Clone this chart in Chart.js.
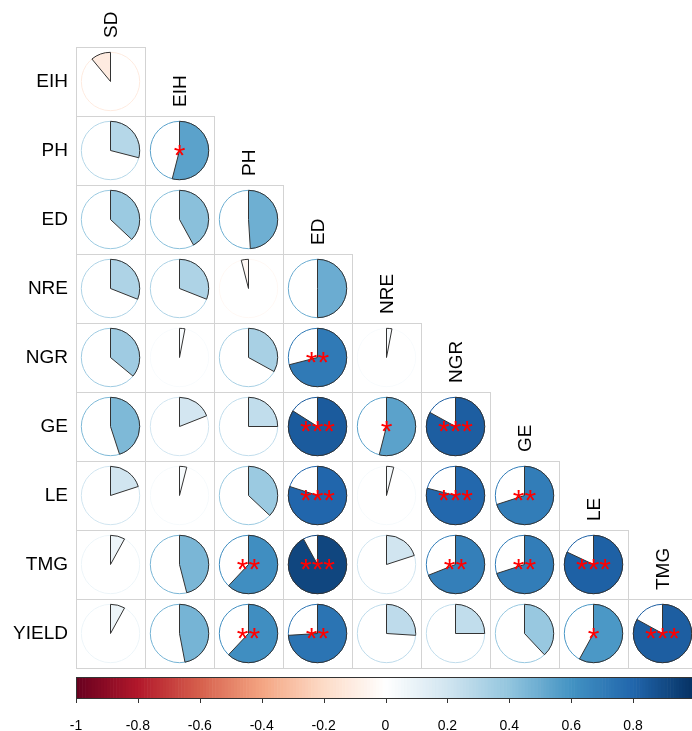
<!DOCTYPE html>
<html><head><meta charset="utf-8">
<script src="https://cdn.jsdelivr.net/npm/chart.js@4/dist/chart.umd.min.js"></script>
<style>
html,body{margin:0;padding:0;width:692px;height:731px;overflow:hidden;background:#fff;}
canvas{position:absolute;left:0;top:0;}
</style></head><body>
<canvas id="main" width="700" height="731"></canvas>
<canvas id="cbar" width="700" height="731"></canvas>
<script>
// ---- data ----
const colLabels = ['SD','EIH','PH','ED','NRE','NGR','GE','LE','TMG'];
const rowLabels = ['EIH','PH','ED','NRE','NGR','GE','LE','TMG','YIELD'];
const corrEIH   = [-0.11];
const corrPH    = [0.29, 0.54];
const corrED    = [0.37, 0.42, 0.49];
const corrNRE   = [0.31, 0.31, -0.04, 0.50];
const corrNGR   = [0.36, 0.03, 0.33, 0.71, 0.03];
const corrGE    = [0.45, 0.19, 0.25, 0.84, 0.54, 0.83];
const corrLE    = [0.20, 0.04, 0.37, 0.80, 0.04, 0.79, 0.70];
const corrTMG   = [0.08, 0.46, 0.62, 0.92, 0.20, 0.69, 0.70, 0.82];
const corrYIELD = [0.08, 0.47, 0.62, 0.74, 0.26, 0.25, 0.38, 0.58, 0.83];
const sigEIH   = [''];
const sigPH    = ['', '*'];
const sigED    = ['', '', ''];
const sigNRE   = ['', '', '', ''];
const sigNGR   = ['', '', '', '**', ''];
const sigGE    = ['', '', '', '***', '*', '***'];
const sigLE    = ['', '', '', '***', '', '***', '**'];
const sigTMG   = ['', '', '**', '***', '', '**', '**', '***'];
const sigYIELD = ['', '', '**', '**', '', '', '', '*', '***'];
const cbTicks = [-1, -0.8, -0.6, -0.4, -0.2, 0, 0.2, 0.4, 0.6, 0.8, 1];
const cbTickLabels = ['-1','-0.8','-0.6','-0.4','-0.2','0','0.2','0.4','0.6','0.8','1'];

const corrRows = [corrEIH, corrPH, corrED, corrNRE, corrNGR, corrGE, corrLE, corrTMG, corrYIELD];
const sigRows  = [sigEIH, sigPH, sigED, sigNRE, sigNGR, sigGE, sigLE, sigTMG, sigYIELD];

const palette = ['#67001F','#B2182B','#D6604D','#F4A582','#FDDBC7','#FFFFFF','#D1E5F0','#92C5DE','#4393C3','#2166AC','#053061'];
function hex2rgb(h){return [parseInt(h.slice(1,3),16),parseInt(h.slice(3,5),16),parseInt(h.slice(5,7),16)];}
const palRGB = palette.map(hex2rgb);
function colorAt(r){
  let t = (r + 1) / 2 * 10;
  let i = Math.min(9, Math.max(0, Math.floor(t)));
  let f = t - i;
  const a = palRGB[i], b = palRGB[i+1];
  return 'rgb(' + [0,1,2].map(k => Math.round(a[k] + (b[k]-a[k])*f)).join(',') + ')';
}

const points = [];
corrRows.forEach((row, i) => row.forEach((v, j) => points.push({x: j, y: i, v: v, sig: sigRows[i][j]})));

const FONT = '"Liberation Sans", Arial, sans-serif';

const corrPlugin = {
  id: 'corrPies',
  afterDatasetsDraw(chart) {
    const ctx = chart.ctx, xs = chart.scales.x, ys = chart.scales.y;
    const meta = chart.getDatasetMeta(0);
    const cw = Math.abs(xs.getPixelForValue(1) - xs.getPixelForValue(0));
    const ch = Math.abs(ys.getPixelForValue(1) - ys.getPixelForValue(0));
    const R = cw * 0.423;
    ctx.save();
    // grid cells
    ctx.strokeStyle = '#d3d3d3';
    ctx.lineWidth = 1;
    meta.data.forEach(el => {
      const x0 = Math.round(el.x - cw/2) + 0.5, y0 = Math.round(el.y - ch/2) + 0.5;
      ctx.strokeRect(x0, y0, Math.round(cw), Math.round(ch));
    });
    // pies
    meta.data.forEach((el, k) => {
      const p = points[k];
      const col = colorAt(p.v);
      const cx = el.x, cy = el.y;
      ctx.beginPath();
      ctx.arc(cx, cy, R, 0, Math.PI*2);
      ctx.strokeStyle = col; ctx.lineWidth = 1; ctx.stroke();
      ctx.beginPath();
      ctx.moveTo(cx, cy);
      ctx.arc(cx, cy, R, -Math.PI/2, -Math.PI/2 + 2*Math.PI*p.v, p.v < 0);
      ctx.closePath();
      ctx.fillStyle = col; ctx.fill();
      ctx.strokeStyle = '#333'; ctx.lineWidth = 1; ctx.stroke();
    });
    // significance stars
    ctx.font = '30px ' + FONT;
    ctx.fillStyle = '#FF0000';
    ctx.textAlign = 'center';
    ctx.textBaseline = 'alphabetic';
    const m = ctx.measureText('*');
    const off = (m.actualBoundingBoxAscent - m.actualBoundingBoxDescent) / 2;
    meta.data.forEach((el, k) => {
      const s = points[k].sig;
      if (s) ctx.fillText(s, el.x, el.y + off);
    });
    // labels
    ctx.fillStyle = '#000';
    ctx.font = '19px ' + FONT;
    ctx.textAlign = 'right'; ctx.textBaseline = 'middle';
    rowLabels.forEach((lab, i) => ctx.fillText(lab, xs.getPixelForValue(-0.5) - 8, ys.getPixelForValue(i)));
    colLabels.forEach((lab, j) => {
      ctx.save();
      ctx.translate(xs.getPixelForValue(j) + 1, ys.getPixelForValue(j - 0.5) - 9);
      ctx.rotate(-Math.PI/2);
      ctx.textAlign = 'left'; ctx.textBaseline = 'middle';
      ctx.fillText(lab, 0, 0);
      ctx.restore();
    });
    ctx.restore();
  }
};

new Chart(document.getElementById('main'), {
  type: 'scatter',
  data: { datasets: [{ data: points, pointRadius: 0, pointHoverRadius: 0 }] },
  options: {
    responsive: false, animation: false, events: [],
    layout: { padding: { left: 76, right: 3, top: 47, bottom: 63 } },
    plugins: { legend: { display: false }, tooltip: { enabled: false } },
    scales: {
      x: { type: 'linear', min: -0.5, max: 8.5, display: false },
      y: { type: 'linear', min: -0.5, max: 8.5, reverse: true, display: false }
    }
  },
  plugins: [corrPlugin]
});

const cbPlugin = {
  id: 'colorbar',
  afterDatasetsDraw(chart) {
    const ctx = chart.ctx, xs = chart.scales.x, a = chart.chartArea;
    const n = 200;
    ctx.save();
    for (let i = 0; i < n; i++) {
      const v0 = -1 + 2*i/n, v1 = -1 + 2*(i+1)/n;
      const px0 = xs.getPixelForValue(v0), px1 = xs.getPixelForValue(v1);
      ctx.fillStyle = colorAt((v0 + v1) / 2);
      ctx.fillRect(px0, a.top, px1 - px0 + 0.6, a.bottom - a.top);
    }
    ctx.strokeStyle = '#333'; ctx.lineWidth = 1;
    ctx.strokeRect(Math.round(a.left) + 0.5, Math.round(a.top) + 0.5, Math.round(a.right - a.left), Math.round(a.bottom - a.top));
    // ticks and labels
    ctx.fillStyle = '#000';
    ctx.font = '14px ' + FONT;
    ctx.textAlign = 'center'; ctx.textBaseline = 'middle';
    cbTicks.forEach((v, i) => {
      const px = Math.round(xs.getPixelForValue(v)) + 0.5;
      ctx.beginPath();
      ctx.moveTo(px, a.bottom); ctx.lineTo(px, a.bottom + 5);
      ctx.stroke();
      ctx.fillText(cbTickLabels[i], xs.getPixelForValue(v), a.bottom + 28);
    });
    ctx.restore();
  }
};

new Chart(document.getElementById('cbar'), {
  type: 'scatter',
  data: { datasets: [{ data: [] }] },
  options: {
    responsive: false, animation: false, events: [],
    layout: { padding: { left: 76, right: 5, top: 677, bottom: 33 } },
    plugins: { legend: { display: false }, tooltip: { enabled: false } },
    scales: {
      x: { type: 'linear', min: -1, max: 1, display: false },
      y: { type: 'linear', min: 0, max: 1, display: false }
    }
  },
  plugins: [cbPlugin]
});
</script>
</body></html>
